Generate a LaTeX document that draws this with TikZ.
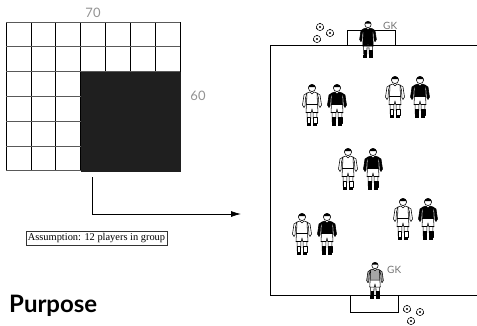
\documentclass[tikz,border=0pt]{standalone}
\usepackage{fontspec}
\setmainfont{Liberation Serif}
\newfontfamily\labelfont{Lato}
\usetikzlibrary{arrows.meta}
\tikzset{
  dim/.style={font=\labelfont\fontsize{13}{13}\selectfont, text=gray!85, inner sep=0pt},
  gk/.style={font=\labelfont\fontsize{10}{10}\selectfont, text=gray!90!black, inner sep=0pt},
  note/.style={draw=black!80, line width=0.6pt, font=\fontsize{10.4}{11}\selectfont, inner sep=2pt},
  pics/player/.style n args={3}{code={
    \begin{scope}[line width=0.55pt, line join=round]
      \filldraw[fill=#1] (-5,9) -- (-8,11) -- (-9.5,21) -- (-8,23.5) -- (-7,22) -- (-6.5,14) -- cycle;
      \filldraw[fill=#1] (5,9) -- (8,11) -- (9.5,21) -- (8,23.5) -- (7,22) -- (6.5,14) -- cycle;
      \filldraw[fill=white] (-5,28) -- (-4.8,38) -- (-1.4,38) -- (-1,28) -- cycle;
      \filldraw[fill=white] (5,28) -- (4.8,38) -- (1.4,38) -- (1,28) -- cycle;
      \filldraw[fill=#3] (-4.8,33) rectangle (-1.4,39);
      \filldraw[fill=#3] (1.4,33) rectangle (4.8,39);
      \fill (-5.2,39) rectangle (-1,41.5);
      \fill (1,39) rectangle (5.2,41.5);
      \filldraw[fill=#2] (-5.5,20) -- (5.5,20) -- (6,28.5) -- (0.8,28.5) -- (0,25) -- (-0.8,28.5) -- (-6,28.5) -- cycle;
      \filldraw[fill=#1] (-2,8) -- (-5,9) -- (-5.5,20.5) -- (5.5,20.5) -- (5,9) -- (2,8) -- (0,10) -- cycle;
      \filldraw[fill=white] (0,4) circle[radius=3.6];
      \fill (-3.6,3) .. controls (-3,-0.5) and (3,-0.5) .. (3.6,3) -- cycle;
    \end{scope}
  }},
  pics/ball/.style={code={
    \filldraw[fill=white, line width=0.5pt] (0,0) circle[radius=3.6];
    \fill (0,0) circle[radius=1.2];
    \fill (0,-3.4) circle[radius=0.7] (3.2,1.4) circle[radius=0.7] (-3.2,1.4) circle[radius=0.7];
  }}
}
\begin{document}
\begin{tikzpicture}[x=1pt, y=-1pt]
  \useasboundingbox (0,0) rectangle (477,325);
  % grid 7 x 6
  \foreach \i in {0,...,7}
    \draw[line width=0.7pt] ({6+\i*24.86},22) -- ({6+\i*24.86},171);
  \foreach \j in {0,...,6}
    \draw[gray!70!black, line width=1pt] (6,{22+\j*24.83}) -- (180,{22+\j*24.83});
  \fill[black!88] (81,71.5) rectangle (180.5,171.5);
  \node[dim] (top) at (93,13) {70};
  \node[dim] (side) at (198,96) {60};
  % arrow to the pitch
  \coordinate (drop) at (92,177);
  \coordinate (pitch) at (241,214);
  \draw[line width=0.8pt, -{Latex[length=10pt, width=6pt]}] (drop) |- (pitch);
  \node[note] (note) at (96.5,238.5) {Assumption: 12 players in group};
  \node[font=\labelfont\bfseries\fontsize{24}{24}\selectfont, anchor=base west, inner sep=0pt] (purpose) at (9,312) {Purpose};
  % pitch
  \draw[line width=0.9pt] (477,45) -- (270,45) -- (270,295) -- (477,295);
  \draw[line width=0.8pt] (347,30) rectangle (395,45);
  \draw[line width=0.8pt] (350,295) rectangle (398,312);
  % goalkeepers
  \pic[scale=0.88] at (368,21) {player={black}{black}{black}};
  \node[gk, anchor=west] (gkA) at (383,26) {GK};
  \pic[scale=0.88] at (375,262) {player={gray!70}{white}{black}};
  \node[gk, anchor=west] (gkB) at (387,270) {GK};
  % pairs
  \foreach \x/\y in {312/84, 395/76, 348/148, 302/213, 403/198} {
    \pic at (\x,\y) {player={white}{white}{white}};
    \pic at (\x+25,\y) {player={black}{white}{black}};
  }
  % balls
  \foreach \x/\y in {320/27, 330/33, 317/39, 407/309, 420/312, 411/321}
    \pic at (\x,\y) {ball};
\end{tikzpicture}
\end{document}
